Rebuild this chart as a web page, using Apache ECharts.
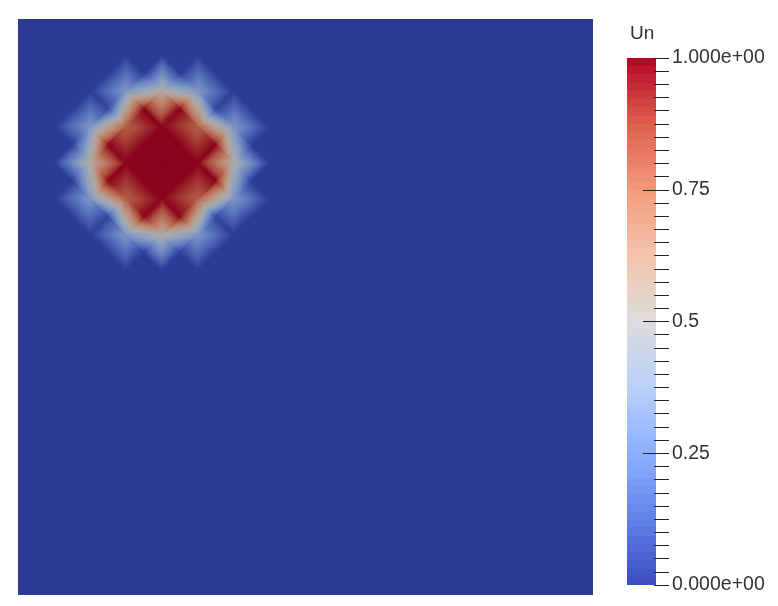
<!DOCTYPE html>
<html><head><meta charset="utf-8">
<style>html,body{margin:0;padding:0;background:#fff}#c{width:778px;height:606px}</style>
<script src="https://cdn.jsdelivr.net/npm/echarts@6/dist/echarts.min.js"></script>
</head><body><div id="c"></div>
<script>
// Nodal values on the corners of the square mesh (rows top to bottom, 0 outside this block)
const cornerValues = [
 [0,0,0,0,0,0,0,0,0],
 [0,0,0,0,0,0,0,0,0],
 [0,0,0,.32,.52,.32,0,0,0],
 [0,0,.32,.82,1,.82,.32,0,0],
 [0,0,.52,1,1,1,.52,0,0],
 [0,0,.32,.82,1,.82,.32,0,0],
 [0,0,0,.32,.52,.32,0,0,0],
 [0,0,0,0,0,0,0,0,0],
 [0,0,0,0,0,0,0,0,0]
];
// Nodal values at the centres of the mesh cells
const centreValues = [
 [0,0,0,0,0,0,0,0],
 [0,0,0,0,0,0,0,0],
 [0,0,.03,1,1,.03,0,0],
 [0,0,1,1,1,1,0,0],
 [0,0,1,1,1,1,0,0],
 [0,0,.03,1,1,.03,0,0],
 [0,0,0,0,0,0,0,0],
 [0,0,0,0,0,0,0,0]
];
const meshCells = 16;
const rampStops = [0,.125,.25,.375,.5,.625,.75,.875,1];
const rampColors = [[59,76,192],[98,130,234],[141,176,254],[186,208,249],[221,221,221],[244,196,173],[244,154,123],[222,96,77],[180,4,38]];
const shade = 0.77;
const barBands = 64;
const barTicks = {0:'0.000e+00',.25:'0.25',.5:'0.5',.75:'0.75',1:'1.000e+00'};
const longTicks = [.25,.5,.75];
const fieldName = 'Un';

function ramp(v,k){
  v=Math.max(0,Math.min(1,v));
  let i=0; while(i<rampStops.length-2 && v>rampStops[i+1]) i++;
  const t=(v-rampStops[i])/(rampStops[i+1]-rampStops[i]);
  const a=rampColors[i],b=rampColors[i+1];
  return 'rgb('+[0,1,2].map(n=>Math.round((a[n]+(b[n]-a[n])*t)*k)).join(',')+')';
}
const cv=(i,j)=>(cornerValues[j]&&cornerValues[j][i])||0;
const mv=(i,j)=>(centreValues[j]&&centreValues[j][i])||0;
const triangles=[];
for(let j=0;j<meshCells;j++)for(let i=0;i<meshCells;i++){
  const P=[[i,j,cv(i,j)],[i+1,j,cv(i+1,j)],[i+1,j+1,cv(i+1,j+1)],[i,j+1,cv(i,j+1)]];
  const M=[i+.5,j+.5,mv(i,j)];
  for(let e=0;e<4;e++) if(P[e][2]||P[(e+1)%4][2]||M[2]) triangles.push([...P[e],...P[(e+1)%4],...M]);
}
const SUB=16;
function renderTri(params,api){
  const d=[0,1,2,3,4,5,6,7,8].map(n=>api.value(n));
  const A=api.coord([d[0],d[1]]),B=api.coord([d[3],d[4]]),C=api.coord([d[6],d[7]]);
  const va=d[2],vb=d[5],vc=d[8];
  const flat=(va===vb&&vb===vc);
  const n=flat?1:SUB;
  const pt=(u,v)=>{const w=n-u-v;return [(A[0]*u+B[0]*v+C[0]*w)/n,(A[1]*u+B[1]*v+C[1]*w)/n];};
  const val=(u,v)=>{const w=n-u-v;return (va*u+vb*v+vc*w)/n;};
  const kids=[];
  const add=(p,q,r,value)=>{const c=ramp(value,shade);kids.push({type:'polygon',shape:{points:[p,q,r]},style:{fill:c,stroke:c,lineWidth:1.2}});};
  for(let u=0;u<n;u++)for(let v=0;v<n-u;v++){
    add(pt(u,v),pt(u+1,v),pt(u,v+1),val(u+1/3,v+1/3));
    if(u+v<n-1) add(pt(u+1,v),pt(u+1,v+1),pt(u,v+1),val(u+2/3,v+2/3));
  }
  return {type:'group',children:kids};
}
const bands=[];
for(let b=0;b<barBands;b++) bands.push([b/barBands,(b+1)/barBands]);
function renderBand(params,api){
  const lo=api.value(0),hi=api.value(1);
  const p=api.coord([0,hi]),q=api.coord([1,lo]);
  const top=Math.round(p[1]),bottom=Math.round(q[1]);
  return {type:'rect',shape:{x:p[0],y:top,width:q[0]-p[0],height:bottom-top},
    style:{fill:ramp((lo+hi)/2,1)}};
}
const chart=echarts.init(document.getElementById('c'),null,{renderer:'canvas'});
const labelFont='Liberation Sans';
chart.setOption({
  animation:false,
  backgroundColor:'#fff',
  title:{text:fieldName,left:630,top:24,padding:0,textStyle:{fontFamily:labelFont,fontWeight:'normal',fontSize:19,color:'#333'}},
  grid:[{left:18,top:19,width:575,height:576,show:true,borderWidth:0,backgroundColor:ramp(0,shade)},
        {left:627,top:58,width:29,height:527},
        {left:669,top:58,width:1,height:527}],
  xAxis:[{type:'value',min:0,max:meshCells,show:false,gridIndex:0},
         {type:'value',min:0,max:1,show:false,gridIndex:1},
         {type:'value',min:0,max:1,show:false,gridIndex:2}],
  yAxis:[{type:'value',min:0,max:meshCells,inverse:true,show:false,gridIndex:0},
         {type:'value',min:0,max:1,show:false,gridIndex:1},
         {type:'value',min:0,max:1,interval:.25,gridIndex:2,position:'left',z:5,
          axisLine:{show:false},splitLine:{show:false},
          axisTick:{show:true,inside:false,length:15,lineStyle:{color:'#222',width:1}},
          minorTick:{show:true,splitNumber:10,length:15,lineStyle:{color:'#222',width:1}},
          axisLabel:{inside:true,margin:3,fontFamily:labelFont,fontSize:19.5,color:'#333',formatter:v=>barTicks[v]}},
         {type:'value',min:0,max:1,interval:.25,gridIndex:2,position:'left',z:5,
          axisLine:{show:false},splitLine:{show:false},axisLabel:{show:false},
          axisTick:{show:true,inside:false,length:26,customValues:longTicks,lineStyle:{color:'#222',width:1}}}],
  series:[
   {type:'custom',xAxisIndex:0,yAxisIndex:0,data:triangles,renderItem:renderTri,clip:true,silent:true,
    dimensions:['x0','y0','v0','x1','y1','v1','x2','y2','v2'],progressive:0},
   {type:'custom',xAxisIndex:1,yAxisIndex:1,data:bands,renderItem:renderBand,clip:true,silent:true,
    encode:{y:[0,1]},progressive:0}
  ]
});
</script></body></html>
